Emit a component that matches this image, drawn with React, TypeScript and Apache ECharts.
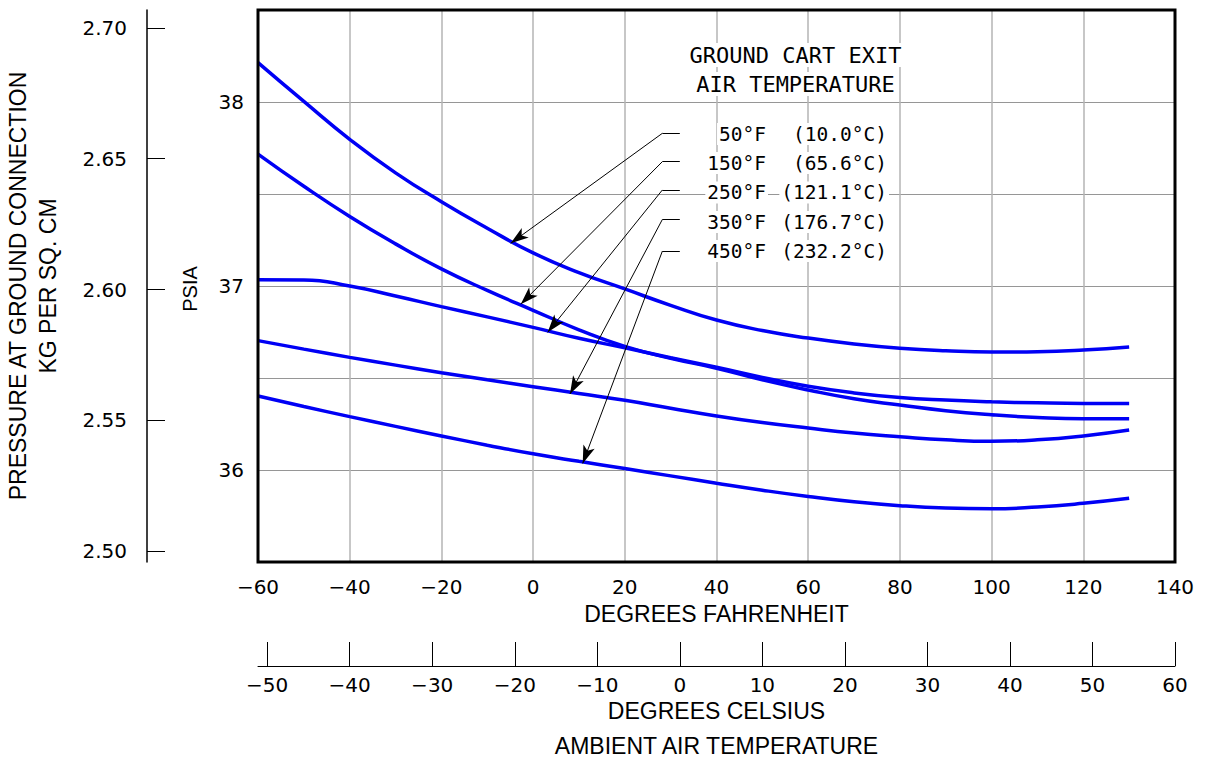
import React, { useEffect, useRef } from "react";
import * as echarts from "echarts";

// ---------- data ----------
const FAHRENHEIT = [-60, -50, -40, -30, -20, -10, 0, 10, 20, 30, 40, 50, 60, 70, 80, 90, 100, 110, 120, 130];

const PSIA_50F = [38.214, 38.003, 37.797, 37.615, 37.458, 37.314, 37.18, 37.073, 36.984, 36.895, 36.815, 36.758, 36.717, 36.685, 36.662, 36.648, 36.641, 36.643, 36.652, 36.668];
const PSIA_150F = [37.717, 37.542, 37.378, 37.229, 37.093, 36.976, 36.868, 36.762, 36.672, 36.607, 36.553, 36.49, 36.435, 36.387, 36.353, 36.322, 36.3, 36.285, 36.278, 36.279];
const PSIA_250F = [37.034, 37.033, 37.0, 36.946, 36.888, 36.832, 36.775, 36.716, 36.664, 36.61, 36.558, 36.503, 36.455, 36.419, 36.394, 36.38, 36.371, 36.365, 36.362, 36.362];
const PSIA_350F = [36.703, 36.657, 36.612, 36.57, 36.529, 36.49, 36.453, 36.416, 36.379, 36.336, 36.294, 36.258, 36.228, 36.201, 36.181, 36.164, 36.156, 36.164, 36.185, 36.217];
const PSIA_450F = [36.402, 36.345, 36.29, 36.237, 36.185, 36.135, 36.088, 36.047, 36.008, 35.968, 35.928, 35.89, 35.856, 35.827, 35.806, 35.793, 35.789, 35.799, 35.819, 35.846];

const CURVES = [PSIA_50F, PSIA_150F, PSIA_250F, PSIA_350F, PSIA_450F];

const LEGEND_TITLE = ["GROUND CART EXIT", "AIR TEMPERATURE"];
const LEGEND_F = ["50°F", "150°F", "250°F", "350°F", "450°F"];
const LEGEND_C = ["(10.0°C)", "(65.6°C)", "(121.1°C)", "(176.7°C)", "(232.2°C)"];

// leader lines (data coordinates: °F, PSIA)
const LEADER_END_F = 32.0;
const LEADER_ELBOW_F = 28.2;
const LEADER_PSIA = [37.83, 37.676, 37.522, 37.362, 37.19];
const LEADER_TIPS = [
  [-4.89, 37.232],
  [-2.7, 36.901],
  [3.18, 36.748],
  [8.04, 36.413],
  [10.82, 36.036],
];

const F_MIN = -60;
const F_MAX = 140;
const F_STEP = 20;
const PSIA_MIN = 35.5;
const PSIA_MAX = 38.5;
const PSIA_STEP = 0.5;
const KG_PER_PSI = 0.070307;
const KG_TICKS = [2.5, 2.55, 2.6, 2.65, 2.7];
const C_TICKS = [-50, -40, -30, -20, -10, 0, 10, 20, 30, 40, 50, 60];

// ---------- layout ----------
const GRID = { left: 258, top: 10, width: 917, height: 552 };
const NUM_FONT = "DejaVu Sans";
const TITLE_FONT = "Liberation Sans, Arial, sans-serif";
const CAD_FONT = "DejaVu Sans Mono";

const minus = (v: number, digits = 0) => {
  const s = Math.abs(v).toFixed(digits);
  return v < 0 ? "\u2212" + s : s;
};

export default function App() {
  const ref = useRef<HTMLDivElement>(null);

  useEffect(() => {
    const chart = echarts.init(ref.current!, null, { renderer: "svg" });

    const series: any[] = CURVES.map((vals, i) => ({
      type: "line",
      xAxisIndex: 0,
      yAxisIndex: 0,
      showSymbol: false,
      smooth: 0.5,
      silent: true,
      data: FAHRENHEIT.map((f, j) => [f, vals[j]]),
      lineStyle: { color: "#0000f5", width: 3.5 },
      markLine: {
        silent: true,
        animation: false,
        symbol: ["none", "arrow"],
        symbolSize: [9, 18],
        lineStyle: { color: "#000", width: 1, type: "solid" },
        label: { show: false },
        emphasis: { disabled: true },
        data: [
          [
            { coord: [LEADER_END_F, LEADER_PSIA[i]], symbol: "none" },
            { coord: [LEADER_ELBOW_F, LEADER_PSIA[i]], symbol: "none" },
          ],
          [
            { coord: [LEADER_ELBOW_F, LEADER_PSIA[i]], symbol: "none" },
            { coord: LEADER_TIPS[i], symbol: "arrow" },
          ],
        ],
      },
    }));

    series.push({
      type: "line",
      xAxisIndex: 1,
      yAxisIndex: 2,
      data: [],
      silent: true,
    });

    const rowY = [134, 163, 192.5, 222, 251];
    const legendTexts: any[] = [];
    LEGEND_TITLE.forEach((t, i) => {
      legendTexts.push({
        type: "text",
        x: 795.5,
        y: [55, 84][i],
        z: 50,
        style: {
          text: t,
          fontFamily: CAD_FONT,
          fontSize: 22,
          fill: "#000",
          align: "center",
          verticalAlign: "middle",
          backgroundColor: "#fff",
          padding: [1, 2],
        },
      });
    });
    LEGEND_F.forEach((t, i) => {
      legendTexts.push({
        type: "text",
        x: 768,
        y: rowY[i],
        z: 50,
        style: {
          text: t,
          fontFamily: CAD_FONT,
          fontSize: 19.5,
          fill: "#000",
          align: "right",
          verticalAlign: "middle",
          backgroundColor: "#fff",
          padding: [1, 2],
        },
      });
      legendTexts.push({
        type: "text",
        x: 889,
        y: rowY[i],
        z: 50,
        style: {
          text: LEGEND_C[i],
          fontFamily: CAD_FONT,
          fontSize: 19.5,
          fill: "#000",
          align: "right",
          verticalAlign: "middle",
          backgroundColor: "#fff",
          padding: [1, 2],
        },
      });
    });

    const titleStyle = (text: string) => ({
      text,
      fontFamily: TITLE_FONT,
      fontSize: 23,
      fill: "#000",
      align: "center",
      verticalAlign: "middle",
    });

    chart.setOption({
      animation: false,
      backgroundColor: "#fff",
      grid: [
        { left: GRID.left, top: GRID.top, width: GRID.width, height: GRID.height, show: false },
        { left: GRID.left, top: 620, width: GRID.width, height: 46, show: false },
      ],
      xAxis: [
        {
          type: "value",
          gridIndex: 0,
          min: F_MIN,
          max: F_MAX,
          interval: F_STEP,
          axisLine: { show: false },
          axisTick: { show: false },
          axisLabel: {
            margin: 15,
            fontFamily: NUM_FONT,
            fontSize: 20,
            color: "#000",
            formatter: (v: number) => minus(v),
          },
          splitLine: { show: true, lineStyle: { color: "#b4b4b4", width: 1.5 } },
        },
        {
          type: "value",
          gridIndex: 1,
          min: ((F_MIN - 32) * 5) / 9,
          max: ((F_MAX - 32) * 5) / 9,
          position: "bottom",
          axisLine: { show: true, lineStyle: { color: "#000", width: 1 } },
          axisTick: { show: true, inside: true, length: 24, customValues: C_TICKS, lineStyle: { color: "#000", width: 1 } },
          axisLabel: {
            customValues: C_TICKS,
            margin: 9,
            fontFamily: NUM_FONT,
            fontSize: 20,
            color: "#000",
            formatter: (v: number) => minus(v),
          },
          splitLine: { show: false },
        },
      ],
      yAxis: [
        {
          type: "value",
          gridIndex: 0,
          min: PSIA_MIN,
          max: PSIA_MAX,
          interval: PSIA_STEP,
          axisLine: { show: false },
          axisTick: { show: false },
          axisLabel: {
            margin: 14,
            fontFamily: NUM_FONT,
            fontSize: 20,
            color: "#000",
            formatter: (v: number) => (Math.abs(v - Math.round(v)) < 1e-6 ? String(Math.round(v)) : ""),
          },
          splitLine: { show: true, lineStyle: { color: "#969696", width: 1.2 } },
        },
        {
          type: "value",
          gridIndex: 0,
          position: "left",
          offset: GRID.left - 147,
          min: PSIA_MIN * KG_PER_PSI,
          max: PSIA_MAX * KG_PER_PSI,
          axisLine: { show: true, lineStyle: { color: "#000", width: 1.5 } },
          axisTick: { show: true, inside: true, length: 18, customValues: KG_TICKS, lineStyle: { color: "#000", width: 1 } },
          axisLabel: {
            customValues: KG_TICKS,
            margin: 20,
            fontFamily: NUM_FONT,
            fontSize: 20,
            color: "#000",
            formatter: (v: number) => v.toFixed(2),
          },
          splitLine: { show: false },
        },
        { type: "value", gridIndex: 1, show: false, min: 0, max: 1 },
      ],
      series,
      graphic: [
        {
          type: "rect",
          z: 100,
          silent: true,
          shape: { x: GRID.left, y: GRID.top, width: GRID.width, height: GRID.height },
          style: { fill: "none", stroke: "#000", lineWidth: 3 },
        },
        { type: "text", x: 716.5, y: 614, style: titleStyle("DEGREES FAHRENHEIT") },
        { type: "text", x: 716.5, y: 711, style: titleStyle("DEGREES CELSIUS") },
        { type: "text", x: 716.5, y: 746, style: titleStyle("AMBIENT AIR TEMPERATURE") },
        { type: "text", x: 18, y: 286, rotation: Math.PI / 2, style: titleStyle("PRESSURE AT GROUND CONNECTION") },
        { type: "text", x: 48, y: 286, rotation: Math.PI / 2, style: titleStyle("KG PER SQ. CM") },
        {
          type: "text",
          x: 190,
          y: 289,
          rotation: Math.PI / 2,
          style: { ...titleStyle("PSIA"), fontSize: 20 },
        },
        ...legendTexts,
      ],
    });

    return () => chart.dispose();
  }, []);

  return (
    <div
      ref={ref}
      style={{ position: "absolute", left: 0, top: 0, width: 1208, height: 759 }}
    />
  );
}
